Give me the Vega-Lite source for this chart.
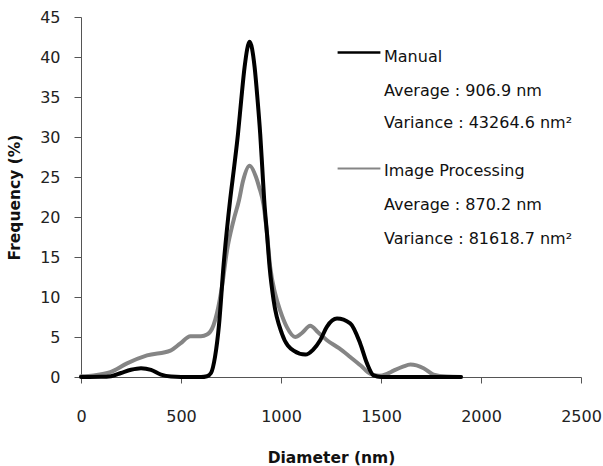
{
  "$schema": "https://vega.github.io/schema/vega-lite/v6.json",
  "width": 500,
  "height": 360,
  "autosize": {"type": "none"},
  "padding": {"left": 81, "top": 17, "right": 22, "bottom": 89},
  "background": "white",
  "config": {
    "view": {"stroke": null},
    "font": "DejaVu Sans",
    "axis": {"grid": false, "domainColor": "#555", "tickColor": "#555", "labelColor": "#222", "titleColor": "#111", "labelFont": "DejaVu Sans", "titleFont": "DejaVu Sans", "labelOverlap": false, "labelFlush": false, "labelBound": false}
  },
  "datasets": {
    "curves": [
      {"d": 0, "f": 0.1, "s": "Image Processing"},
      {"d": 63, "f": 0.2, "s": "Image Processing"},
      {"d": 147, "f": 0.6, "s": "Image Processing"},
      {"d": 230, "f": 1.7, "s": "Image Processing"},
      {"d": 330, "f": 2.7, "s": "Image Processing"},
      {"d": 447, "f": 3.3, "s": "Image Processing"},
      {"d": 497, "f": 4.2, "s": "Image Processing"},
      {"d": 547, "f": 5.1, "s": "Image Processing"},
      {"d": 600, "f": 5.1, "s": "Image Processing"},
      {"d": 630, "f": 5.3, "s": "Image Processing"},
      {"d": 663, "f": 6.5, "s": "Image Processing"},
      {"d": 680, "f": 8.0, "s": "Image Processing"},
      {"d": 705, "f": 11.3, "s": "Image Processing"},
      {"d": 730, "f": 15.8, "s": "Image Processing"},
      {"d": 763, "f": 19.6, "s": "Image Processing"},
      {"d": 790, "f": 22.1, "s": "Image Processing"},
      {"d": 810, "f": 24.5, "s": "Image Processing"},
      {"d": 843, "f": 26.4, "s": "Image Processing"},
      {"d": 875, "f": 25.0, "s": "Image Processing"},
      {"d": 890, "f": 23.8, "s": "Image Processing"},
      {"d": 913, "f": 21.5, "s": "Image Processing"},
      {"d": 930, "f": 17.9, "s": "Image Processing"},
      {"d": 946, "f": 13.75, "s": "Image Processing"},
      {"d": 971, "f": 10.4, "s": "Image Processing"},
      {"d": 996, "f": 8.3, "s": "Image Processing"},
      {"d": 1030, "f": 6.2, "s": "Image Processing"},
      {"d": 1071, "f": 5.0, "s": "Image Processing"},
      {"d": 1105, "f": 5.5, "s": "Image Processing"},
      {"d": 1146, "f": 6.4, "s": "Image Processing"},
      {"d": 1185, "f": 5.6, "s": "Image Processing"},
      {"d": 1230, "f": 4.6, "s": "Image Processing"},
      {"d": 1290, "f": 3.6, "s": "Image Processing"},
      {"d": 1346, "f": 2.5, "s": "Image Processing"},
      {"d": 1400, "f": 1.4, "s": "Image Processing"},
      {"d": 1446, "f": 0.4, "s": "Image Processing"},
      {"d": 1490, "f": 0.15, "s": "Image Processing"},
      {"d": 1530, "f": 0.4, "s": "Image Processing"},
      {"d": 1563, "f": 0.8, "s": "Image Processing"},
      {"d": 1610, "f": 1.3, "s": "Image Processing"},
      {"d": 1647, "f": 1.55, "s": "Image Processing"},
      {"d": 1713, "f": 1.1, "s": "Image Processing"},
      {"d": 1763, "f": 0.3, "s": "Image Processing"},
      {"d": 1830, "f": 0.05, "s": "Image Processing"},
      {"d": 1900, "f": 0, "s": "Image Processing"},
      {"d": 0, "f": 0, "s": "Manual"},
      {"d": 100, "f": 0.02, "s": "Manual"},
      {"d": 150, "f": 0.1, "s": "Manual"},
      {"d": 200, "f": 0.5, "s": "Manual"},
      {"d": 250, "f": 0.9, "s": "Manual"},
      {"d": 300, "f": 1.1, "s": "Manual"},
      {"d": 350, "f": 0.9, "s": "Manual"},
      {"d": 400, "f": 0.3, "s": "Manual"},
      {"d": 450, "f": 0.05, "s": "Manual"},
      {"d": 500, "f": 0, "s": "Manual"},
      {"d": 600, "f": 0, "s": "Manual"},
      {"d": 630, "f": 0.1, "s": "Manual"},
      {"d": 650, "f": 0.5, "s": "Manual"},
      {"d": 670, "f": 2.5, "s": "Manual"},
      {"d": 690, "f": 6.5, "s": "Manual"},
      {"d": 713, "f": 14, "s": "Manual"},
      {"d": 745, "f": 22, "s": "Manual"},
      {"d": 766, "f": 26.3, "s": "Manual"},
      {"d": 785, "f": 30.4, "s": "Manual"},
      {"d": 801, "f": 34.6, "s": "Manual"},
      {"d": 818, "f": 38.75, "s": "Manual"},
      {"d": 843, "f": 41.9, "s": "Manual"},
      {"d": 868, "f": 38.75, "s": "Manual"},
      {"d": 883, "f": 34.6, "s": "Manual"},
      {"d": 896, "f": 30.4, "s": "Manual"},
      {"d": 906, "f": 26.3, "s": "Manual"},
      {"d": 916, "f": 22.1, "s": "Manual"},
      {"d": 930, "f": 17.9, "s": "Manual"},
      {"d": 943, "f": 13.75, "s": "Manual"},
      {"d": 963, "f": 9.6, "s": "Manual"},
      {"d": 1005, "f": 5.4, "s": "Manual"},
      {"d": 1063, "f": 3.3, "s": "Manual"},
      {"d": 1122, "f": 2.8, "s": "Manual"},
      {"d": 1160, "f": 3.4, "s": "Manual"},
      {"d": 1196, "f": 4.6, "s": "Manual"},
      {"d": 1230, "f": 6.3, "s": "Manual"},
      {"d": 1280, "f": 7.3, "s": "Manual"},
      {"d": 1346, "f": 6.7, "s": "Manual"},
      {"d": 1396, "f": 4.2, "s": "Manual"},
      {"d": 1430, "f": 1.7, "s": "Manual"},
      {"d": 1463, "f": 0.2, "s": "Manual"},
      {"d": 1500, "f": 0, "s": "Manual"},
      {"d": 1900, "f": 0, "s": "Manual"}
    ],
    "notes": [
      {"d": 1515, "f": 40, "t": "Manual"},
      {"d": 1515, "f": 35.8, "t": "Average : 906.9 nm"},
      {"d": 1515, "f": 31.7, "t": "Variance : 43264.6 nm²"},
      {"d": 1515, "f": 25.7, "t": "Image Processing"},
      {"d": 1515, "f": 21.5, "t": "Average : 870.2 nm"},
      {"d": 1515, "f": 17.3, "t": "Variance : 81618.7 nm²"}
    ],
    "keys": [
      {"d": 1283, "d2": 1497, "f": 40.55, "s": "Manual"},
      {"d": 1283, "d2": 1497, "f": 26.05, "s": "Image Processing"}
    ]
  },
  "encoding": {
    "x": {"field": "d", "type": "quantitative", "scale": {"domain": [0, 2500], "nice": false},
      "axis": {"values": [0, 500, 1000, 1500, 2000, 2500], "format": "d", "tickSize": 6, "labelPadding": 25, "labelFontSize": 16, "title": "Diameter (nm)", "titleFontSize": 15.5, "titleFontWeight": "bold", "titlePadding": 26}},
    "y": {"field": "f", "type": "quantitative", "scale": {"domain": [0, 45], "nice": false},
      "axis": {"values": [0, 5, 10, 15, 20, 25, 30, 35, 40, 45], "tickSize": 7, "labelPadding": 14, "labelFontSize": 16, "title": "Frequency (%)", "titleFontSize": 15.5, "titleFontWeight": "bold", "titlePadding": 17}}
  },
  "layer": [
    {
      "data": {"name": "curves"},
      "mark": {"type": "line", "interpolate": "monotone", "strokeWidth": 4, "strokeCap": "round", "strokeJoin": "round"},
      "encoding": {
        "color": {"field": "s", "type": "nominal", "scale": {"domain": ["Image Processing", "Manual"], "range": ["#858585", "#000000"]}, "legend": null},
        "order": {"field": "d", "type": "quantitative"},
        "detail": {"field": "s"}
      }
    },
    {
      "data": {"name": "keys"},
      "mark": {"type": "rule"},
      "encoding": {
        "x2": {"field": "d2"},
        "color": {"field": "s", "type": "nominal", "scale": {"domain": ["Image Processing", "Manual"], "range": ["#858585", "#000000"]}, "legend": null},
        "strokeWidth": {"field": "s", "type": "nominal", "scale": {"domain": ["Image Processing", "Manual"], "range": [2, 2.5]}, "legend": null}
      }
    },
    {
      "data": {"name": "notes"},
      "mark": {"type": "text", "align": "left", "baseline": "middle", "fontSize": 16, "font": "DejaVu Sans", "color": "#111"},
      "encoding": {
        "text": {"field": "t"}
      }
    }
  ]
}
